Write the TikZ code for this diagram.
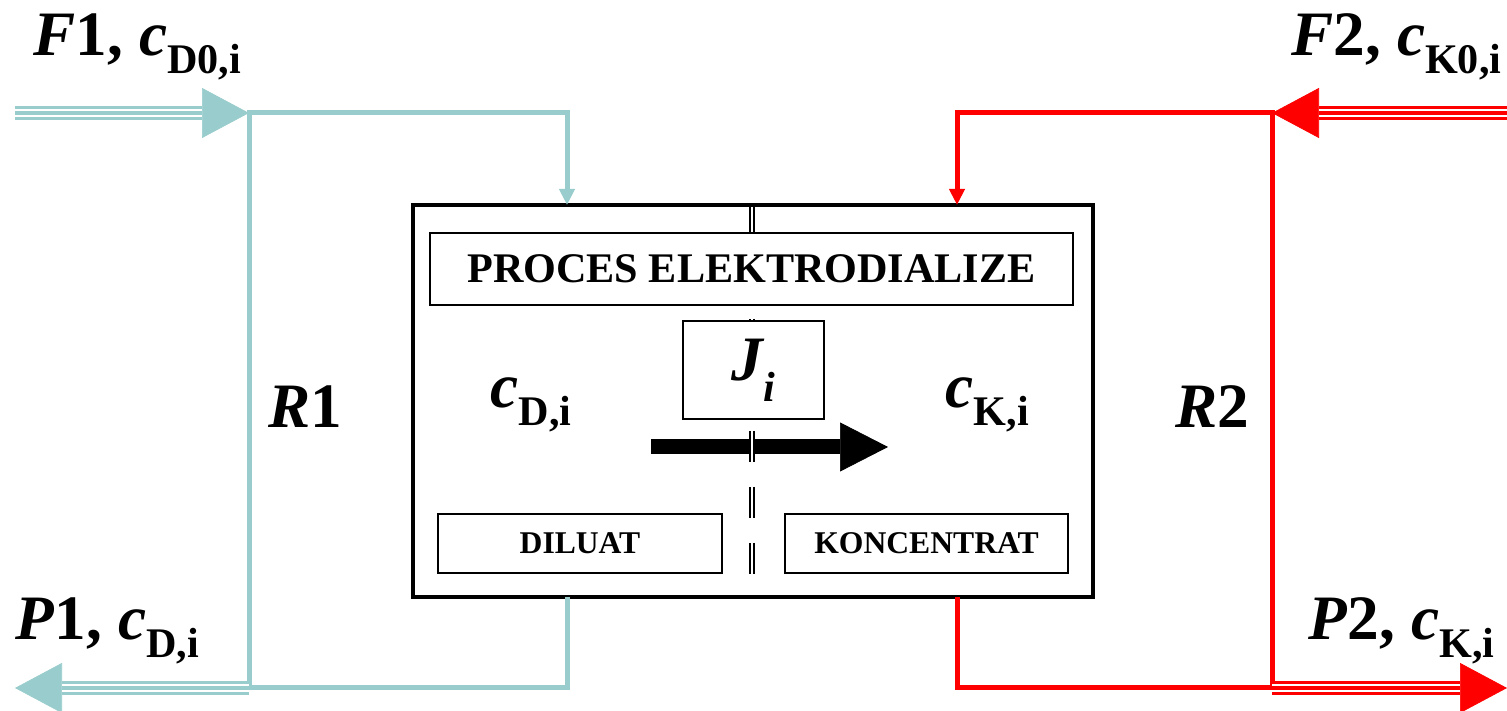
\documentclass[tikz,border=0pt]{standalone}
\usepackage{fontspec}
\setmainfont{Liberation Serif}
\usetikzlibrary{positioning,arrows.meta}
\definecolor{dcyan}{RGB}{153,204,204}
\definecolor{kred}{RGB}{255,0,0}
\newcommand{\bigsz}{\fontsize{18}{20}\selectfont}
\newcommand{\subsz}{\fontsize{12}{14}\selectfont}
\newcommand{\flowlbl}[3]{\textit{#1}#2, \textit{c}\raisebox{-5pt}{\subsz #3}}

\begin{document}
\begin{tikzpicture}[
  lbl/.style={font=\bigsz\bfseries, inner sep=0pt},
  box/.style={draw, line width=0.02cm, fill=white, inner sep=0pt, font=\bfseries},
  loop/.style={draw=#1, line width=0.05cm},
  inlet/.style={loop=#1, -{Triangle[length=0.16cm, width=0.15cm]}},
  feed/.style={draw=#1, line width=0.14cm,
               -{Triangle[length=0.47cm, width=0.5cm, line width=0.2pt]},
               postaction={draw=white, line width=0.02cm, double=#1,
                           double distance=0.035cm, arrows=-, shorten >=0.47cm}},
]
\useasboundingbox (0,0) rectangle (15.07,7.11);

\coordinate (f1) at (0.15,5.98);
\coordinate (j1) at (2.49,5.98);
\coordinate (j3) at (2.49,0.23);
\coordinate (p1) at (0.15,0.23);
\coordinate (f2) at (15.07,5.98);
\coordinate (j2) at (12.72,5.98);
\coordinate (j4) at (12.72,0.23);
\coordinate (p2) at (15.07,0.23);
\coordinate (din)  at (5.67,5.06);
\coordinate (dout) at (5.67,1.14);
\coordinate (kin)  at (9.57,5.06);
\coordinate (kout) at (9.57,1.14);
\coordinate (js) at (6.51,2.64);
\coordinate (je) at (8.88,2.64);
\coordinate (mt) at (7.52,5.04);
\coordinate (mb) at (7.52,1.16);

\node[draw, line width=0.04cm, minimum width=6.8cm, minimum height=3.92cm,
      inner sep=0pt] (ed) at (7.53,3.10) {};

\draw[line width=0.15cm, -{Triangle[length=0.48cm, width=0.49cm, line width=0.2pt]}] (js) -- (je);
\draw[line width=0.018cm, double=white, double distance=0.022cm,
      dash pattern=on 0.31cm off 0.25cm] (mt) -- (mb);

\node[box, minimum width=6.43cm, minimum height=0.72cm, font=\fontsize{12}{14}\selectfont\bfseries]
  (proc) at (7.515,4.42) {PROCES ELEKTRODIALIZE};
\node[box, minimum width=1.41cm, minimum height=0.98cm]
  (flux) at (7.535,3.41) {\bigsz\bfseries\itshape J\raisebox{-6pt}{\subsz i}};
\node[box, minimum width=2.84cm, minimum height=0.59cm, font=\fontsize{9}{11}\selectfont\bfseries]
  (dbox) at (5.80,1.675) {DILUAT};
\node[box, minimum width=2.83cm, minimum height=0.59cm, font=\fontsize{9}{11}\selectfont\bfseries]
  (kbox) at (9.265,1.675) {KONCENTRAT};

\draw[inlet=dcyan] (dout) |- (j3) -- (j1) -| (din);
\draw[inlet=kred]  (kout) |- (j4) -- (j2) -| (kin);
\draw[feed=dcyan] (f1) -- (j1);
\draw[feed=dcyan] (j3) -- (p1);
\draw[feed=kred]  (f2) -- (j2);
\draw[feed=kred]  (j4) -- (p2);

\node[lbl, anchor=base west] (lf1) at (0.33,6.55) {\flowlbl{F}{1}{D0,i}};
\node[lbl, anchor=base east] (lf2) at (15.02,6.55) {\flowlbl{F}{2}{K0,i}};
\node[lbl, anchor=base west] (lp1) at (0.15,0.71) {\flowlbl{P}{1}{D,i}};
\node[lbl, anchor=base east] (lp2) at (14.95,0.71) {\flowlbl{P}{2}{K,i}};
\node[lbl, anchor=base] (r1) at (3.05,2.83) {\textit{R}1};
\node[lbl, anchor=base] (r2) at (12.12,2.83) {\textit{R}2};
\node[lbl, anchor=base west] (cd) at (4.90,3.03) {\textit{c}\raisebox{-5pt}{\subsz D,i}};
\node[lbl, anchor=base west] (ck) at (9.45,3.03) {\textit{c}\raisebox{-5pt}{\subsz K,i}};
\end{tikzpicture}
\end{document}
